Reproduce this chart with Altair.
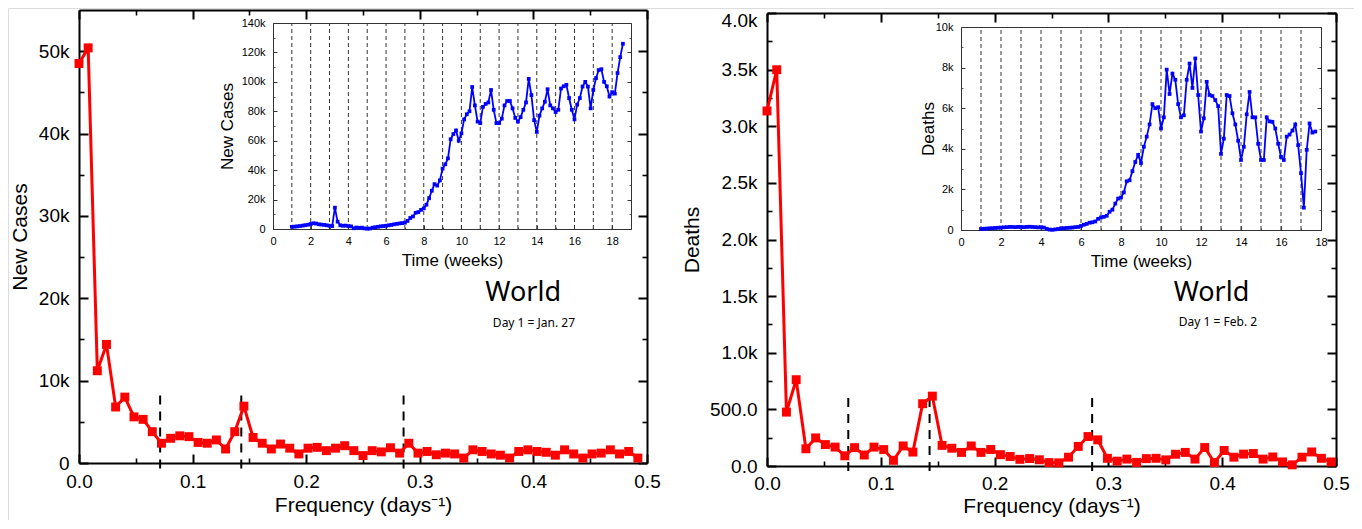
import altair as alt
import pandas as pd

# ---------------- data ----------------
# Fourier spectra (red), one value per frequency bin k/N
cases_spectrum_k = [48.5, 50.4, 11.2, 14.4, 6.8, 8.0, 5.6, 5.3, 3.8, 2.4,
                    3.0, 3.3, 3.2, 2.5, 2.4, 2.8, 1.7, 3.8, 6.9, 3.1,
                    2.4, 1.7, 2.3, 1.8, 1.1, 1.8, 1.9, 1.5, 1.8, 2.1,
                    1.5, 0.9, 1.5, 1.35, 1.85, 1.2, 2.4, 1.2, 1.4, 1.0,
                    1.2, 1.1, 0.6, 1.6, 1.4, 1.1, 0.95, 0.6, 1.4, 1.6,
                    1.4, 1.3, 0.95, 1.6, 1.1, 0.6, 1.1, 1.2, 1.6, 1.1,
                    1.4, 0.6]
cases_days = 124
deaths_spectrum = [3135, 3499, 476, 762, 152, 248, 189, 167, 90, 162,
                   97, 167, 145, 50, 177, 123, 550, 617, 182, 157,
                   120, 177, 120, 146, 100, 84, 59, 66, 55, 30,
                   28, 78, 173, 260, 231, 68, 43, 61, 32, 65,
                   68, 54, 104, 120, 61, 163, 31, 137, 78, 105,
                   110, 61, 80, 36, 10, 78, 124, 68, 36]
deaths_days = 117

# daily series (blue insets), day 1 at week 1
cases_daily_k = [1.5, 1.6, 1.8, 2.0, 2.3, 2.6, 2.9,
                 3.4, 3.9, 3.7, 3.2, 3.0, 2.8, 2.5,
                 2.2, 2.0, 14.5, 5.0, 2.5, 2.2, 2.3,
                 2.0, 1.8, 0.5, 1.0, 0.8, 0.9, 0.4,
                 0.2, 0.3, 0.9, 1.2, 1.5, 1.8, 2.0,
                 2.2, 2.5, 2.8, 3.2, 3.5, 3.8, 4.0,
                 4.3, 5.5, 7.5, 8.5, 11.0, 11.5, 13.0,
                 14.0, 16.5, 21.0, 26.0, 30.5, 29.5, 33.0,
                 41.0, 44.0, 48.0, 61.0, 64.5, 67.0, 60.0,
                 65.0, 74.5, 78.0, 80.0, 96.5, 84.0, 73.0,
                 72.0, 83.0, 85.0, 86.0, 94.5, 81.0, 72.0,
                 72.0, 75.0, 84.0, 87.0, 87.0, 82.0, 75.5,
                 73.0, 76.0, 81.0, 86.0, 102.0, 91.0, 74.0,
                 66.0, 77.0, 82.0, 86.5, 95.0, 84.0, 82.0,
                 79.5, 81.0, 95.5, 97.0, 98.0, 89.0, 81.0,
                 74.5, 84.5, 89.0, 96.8, 100.0, 96.8, 82.0,
                 94.5, 102.5, 108.0, 108.6, 100.0, 97.0, 90.0,
                 93.0, 92.0, 106.0, 116.8, 125.9]
deaths_daily = [50, 60, 70, 80, 90, 100, 110,
                120, 130, 140, 150, 150, 140, 150,
                150, 140, 150, 160, 150, 140, 130,
                140, 120, 60, 20, 10, 30, 50,
                80, 90, 100, 110, 120, 140, 150,
                200, 260, 300, 360, 380, 420, 550,
                620, 650, 700, 900, 1000, 1300, 1550,
                1600, 1850, 2400, 2450, 2900, 3350, 3700,
                3300, 4100, 4600, 5200, 6200, 6000, 6050,
                5000, 5550, 7900, 6700, 7700, 7400, 6200,
                5550, 5650, 7400, 8200, 7000, 8450, 6650,
                4850, 5500, 7300, 6650, 6600, 6400, 6100,
                3750, 4500, 6650, 6600, 5750, 5200, 4400,
                3450, 4100, 5700, 6800, 5550, 5550, 4250,
                3450, 3450, 5550, 5350, 5330, 5000, 4250,
                3600, 3450, 4600, 4700, 4900, 5200, 4180,
                2800, 1100, 3950, 5250, 4800, 4850]

period_freqs = [1 / 14, 1 / 7, 2 / 7]
cases_marker_span_k = [8.2, -1.2]
deaths_marker_span = [600, -100]
cases_week_lines = list(range(1, 19))
deaths_week_lines = list(range(1, 18))

region = "World"
cases_note = "Day 1 = Jan. 27"
deaths_note = "Day 1 = Feb. 2"

# ---------------- layout ----------------
W, H = 1346, 512
FONT = "Liberation Sans"


def frame(box, xdom, ydom, xmaj, xmin_, ymaj, ymin_, xlab, ylab, xtitle, ytitle,
          ytitle_dx, xtitle_dy, lab_size, title_size, dom_w, dom_color,
          maj_len, min_len, tick_w, pad_x, pad_y, top_ticks=True, ylab_offset=0):
    L, R, T, B = box
    xs = alt.Scale(domain=xdom, range=[L, R], nice=False, zero=False)
    ys = alt.Scale(domain=ydom, range=[B, T], nice=False, zero=False)
    dummy = pd.DataFrame({"x": [xdom[0]], "y": [ydom[0]]})

    def lay(xa, ya):
        enc = {}
        enc["x"] = alt.X("x:Q", scale=xs, axis=xa)
        enc["y"] = alt.Y("y:Q", scale=ys, axis=ya)
        return alt.Chart(dummy).mark_point(opacity=0).encode(**enc)

    xa = alt.Axis(orient="bottom", offset=B - H, values=xmaj, labelExpr=xlab,
                  ticks=False, tickSize=0, domain=True, domainWidth=dom_w,
                  domainColor=dom_color, labelPadding=pad_x, labelFont=FONT,
                  labelFontSize=lab_size, labelColor="black", labelFlush=False,
                  labelOverlap=False, grid=False, title=xtitle,
                  titleX=(L + R) / 2, titleY=xtitle_dy, titleAlign="center",
                  titleBaseline="middle", titleFont=FONT, titleFontSize=title_size,
                  titleFontWeight="normal", titleColor="black")
    yextra = {}
    if ylab_offset:
        yextra["labelOffset"] = {"condition": {"test": "datum.value == %s" % ydom[1],
                                               "value": ylab_offset}, "value": 0}
    ya = alt.Axis(orient="left", offset=-L, values=ymaj, labelExpr=ylab,
                  ticks=False, tickSize=0, domain=True, domainWidth=dom_w,
                  domainColor=dom_color, labelPadding=pad_y, labelFont=FONT,
                  labelFontSize=lab_size, labelColor="black", labelFlush=False,
                  labelOverlap=False, grid=False, title=ytitle,
                  titleX=ytitle_dx, titleY=(T + B) / 2, titleAngle=270,
                  titleAlign="center", titleBaseline="middle", titleFont=FONT,
                  titleFontSize=title_size, titleFontWeight="normal",
                  titleColor="black", **yextra)
    layers = [lay(xa, ya)]
    xt = alt.Axis(orient="top", offset=-T, domain=True, domainWidth=dom_w,
                  domainColor=dom_color, labels=False, ticks=False, grid=False,
                  title=None)
    yr = alt.Axis(orient="right", offset=R - W, domain=True, domainWidth=dom_w,
                  domainColor=dom_color, labels=False, ticks=False, grid=False,
                  title=None)
    layers.append(lay(xt, yr))

    def tick_axis(orient, values, length, width):
        off = {"left": -(L + length), "right": (R - length) - W,
               "top": -(T + length), "bottom": (B - length) - H}[orient]
        return alt.Axis(orient=orient, offset=off, values=values, domain=False,
                        labels=False, ticks=True, tickSize=length,
                        tickWidth=width, tickColor=dom_color, grid=False,
                        title=None)

    layers.append(lay(tick_axis("bottom", xmaj, maj_len, tick_w),
                      tick_axis("left", ymaj, maj_len, tick_w)))
    layers.append(lay(tick_axis("bottom", xmin_, min_len, tick_w * 0.8),
                      tick_axis("left", ymin_, min_len, tick_w * 0.8)))
    if top_ticks:
        layers.append(lay(tick_axis("top", xmaj, maj_len, tick_w),
                          tick_axis("right", ymaj, maj_len, tick_w)))
        layers.append(lay(tick_axis("top", xmin_, min_len, tick_w * 0.8),
                          tick_axis("right", ymin_, min_len, tick_w * 0.8)))
    else:
        layers.append(lay(None, tick_axis("right", ymaj, maj_len, tick_w)))
        layers.append(lay(None, tick_axis("right", ymin_, min_len, tick_w * 0.8)))
    return xs, ys, layers


def spectrum_layers(xs, ys, freqs, vals, span, note_xy, world_xy, note):
    df = pd.DataFrame({"f": freqs, "v": vals})
    marks = pd.DataFrame({"f": period_freqs, "top": span[0], "bot": span[1]})
    out = []
    out.append(alt.Chart(marks).mark_rule(color="black", strokeWidth=2,
                                          strokeDash=[9, 7]).encode(
        x=alt.X("f:Q", scale=xs, axis=None),
        y=alt.Y("top:Q", scale=ys, axis=None), y2="bot:Q"))
    out.append(alt.Chart(df).mark_line(color="#ff0000", strokeWidth=3).encode(
        x=alt.X("f:Q", scale=xs, axis=None), y=alt.Y("v:Q", scale=ys, axis=None)))
    out.append(alt.Chart(df).mark_square(color="#ff0000", size=80, opacity=1).encode(
        x=alt.X("f:Q", scale=xs, axis=None), y=alt.Y("v:Q", scale=ys, axis=None)))
    tw = pd.DataFrame({"x": [world_xy[0]], "y": [world_xy[1]], "t": [region]})
    out.append(alt.Chart(tw).mark_text(font="Noto Sans", fontSize=27,
                                       color="black", align="center",
                                       baseline="middle").encode(
        x=alt.X("x:Q", scale=xs, axis=None), y=alt.Y("y:Q", scale=ys, axis=None),
        text="t:N"))
    tn = pd.DataFrame({"x": [note_xy[0]], "y": [note_xy[1]], "t": [note]})
    out.append(alt.Chart(tn).mark_text(font="Noto Sans", fontSize=12,
                                       color="black", align="center",
                                       baseline="middle").encode(
        x=alt.X("x:Q", scale=xs, axis=None), y=alt.Y("y:Q", scale=ys, axis=None),
        text="t:N"))
    return out


def daily_layers(xs, ys, vals, week_lines, ytop):
    df = pd.DataFrame({"w": [1 + i / 7 for i in range(len(vals))], "v": vals})
    wl = pd.DataFrame({"w": week_lines, "lo": 0, "hi": ytop})
    out = []
    out.append(alt.Chart(wl).mark_rule(color="#333333", strokeWidth=1,
                                       strokeDash=[4, 3]).encode(
        x=alt.X("w:Q", scale=xs, axis=None),
        y=alt.Y("lo:Q", scale=ys, axis=None), y2="hi:Q"))
    out.append(alt.Chart(df).mark_line(color="#0000ff", strokeWidth=1.8).encode(
        x=alt.X("w:Q", scale=xs, axis=None), y=alt.Y("v:Q", scale=ys, axis=None)))
    out.append(alt.Chart(df).mark_square(color="#0000ff", size=14, opacity=1).encode(
        x=alt.X("w:Q", scale=xs, axis=None), y=alt.Y("v:Q", scale=ys, axis=None)))
    return out


fx_maj = [0, 0.1, 0.2, 0.3, 0.4, 0.5]
fx_min = [0.05, 0.15, 0.25, 0.35, 0.45]
fx_lab = "format(datum.value, '.1f')"

# left main panel
xs1, ys1, fr1 = frame((71, 639, 2, 455), [0, 0.5], [0, 55], fx_maj, fx_min,
                      [0, 10, 20, 30, 40, 50], [5, 15, 25, 35, 45],
                      fx_lab, "datum.value == 0 ? '0' : datum.value + 'k'",
                      "Frequency (days\u207b\u00b9)", "New Cases", -59, 42,
                      19, 21, 2, "black", 9, 5, 2, 9, 10)
# right main panel
xs2, ys2, fr2 = frame((759, 1328, 5, 458), [0, 0.5], [0, 4000], fx_maj, fx_min,
                      [0, 500, 1000, 1500, 2000, 2500, 3000, 3500, 4000],
                      [250, 750, 1250, 1750, 2250, 2750, 3250, 3750],
                      fx_lab,
                      "datum.value < 1000 ? format(datum.value, '.1f') : format(datum.value / 1000, '.1f') + 'k'",
                      "Frequency (days\u207b\u00b9)", "Deaths", -74.5, 40,
                      19, 21, 2, "black", 9, 5, 2, 8, 10, ylab_offset=7)
# left inset
xs3, ys3, fr3 = frame((265, 623, 15, 221), [0, 19], [0, 140],
                      list(range(0, 19, 2)), list(range(1, 19, 2)),
                      list(range(0, 141, 20)), list(range(10, 140, 20)),
                      "datum.value", "datum.value == 0 ? '0' : datum.value + 'k'",
                      "Time (weeks)", "New Cases", -46, 31.5,
                      11, 17, 1, "#333333", 4, 2, 1, 6, 8, top_ticks=False)
# right inset
xs4, ys4, fr4 = frame((953, 1313, 19, 222), [0, 18], [0, 10000],
                      list(range(0, 19, 2)), list(range(1, 18, 2)),
                      list(range(0, 10001, 2000)), list(range(1000, 10000, 2000)),
                      "datum.value", "datum.value == 0 ? '0' : (datum.value / 1000) + 'k'",
                      "Time (weeks)", "Deaths", -33, 31.5,
                      11, 17, 1, "#333333", 4, 2, 1, 6, 8, top_ticks=False)

layers = []
layers += spectrum_layers(xs1, ys1, [i / cases_days for i in range(len(cases_spectrum_k))],
                          cases_spectrum_k, cases_marker_span_k,
                          (0.4005, 17.0), (0.391, 20.6), cases_note)
layers += fr1
layers += spectrum_layers(xs2, ys2, [i / deaths_days for i in range(len(deaths_spectrum))],
                          deaths_spectrum, deaths_marker_span,
                          (0.3963, 1274), (0.3906, 1525), deaths_note)
layers += fr2
layers += daily_layers(xs3, ys3, cases_daily_k, cases_week_lines, 140)
layers += fr3
layers += daily_layers(xs4, ys4, deaths_daily, deaths_week_lines, 10000)
layers += fr4

chart = alt.layer(*layers).resolve_scale(
    x="independent", y="independent"
).properties(
    width=W, height=H, padding=0,
    autosize=alt.AutoSizeParams(type="none")
).configure_view(stroke=None).configure(background="white")

chart.save("out.html", embed_options={"renderer": "svg", "actions": False})
